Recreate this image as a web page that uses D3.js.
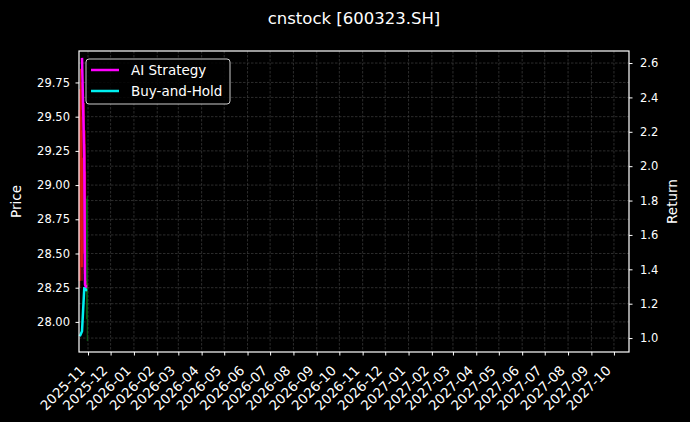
<!DOCTYPE html>
<html lang="en">
<head>
<meta charset="UTF-8">
<script src="https://cdn.jsdelivr.net/npm/d3@7"></script>
<title>cnstock [600323.SH]</title>
<style>
	body { margin: 0; background: #000; }
	svg { display: block; background: #000; font-family: "DejaVu Sans", sans-serif; }
	.grid line { stroke: #4a4a4a; stroke-width: 0.6; stroke-dasharray: 2.5,1.5; }
	.axis path, .axis line { stroke: #fff; }
	.axis text { fill: #fff; font-size: 11.5px; font-family: "DejaVu Sans", sans-serif; }
	.axis.x text { font-size: 13.5px; }
</style>
</head>
<body>
<div id="chart"></div>
<script>
	// trading days shown (all packed at the left edge of a two-year axis)
	const dates = ['2025-10-21', '2025-10-22', '2025-10-23', '2025-10-24', '2025-10-27',
		'2025-10-28', '2025-10-29', '2025-10-30', '2025-10-31'];
	const open  = [28.30, 29.55, 28.60, 28.40, 28.50, 28.40, 28.28, 28.26, 28.90];
	const high  = [29.70, 29.85, 29.75, 29.50, 29.60, 29.40, 28.32, 28.30, 28.92];
	const low   = [28.25, 29.10, 28.40, 28.30, 28.35, 28.30, 28.24, 28.22, 27.86];
	const close = [29.55, 29.70, 29.40, 29.20, 29.30, 29.10, 28.30, 28.28, 28.02];
	const aiReturn  = [null, null, null, 2.63, 2.05, 1.31, 1.30, 1.30, 1.30];
	const bhReturn  = [1.01, 1.02, 1.03, 1.04, 1.29, 1.29, 1.28, 1.28, 1.28];
	const priceTicks  = [28.00, 28.25, 28.50, 28.75, 29.00, 29.25, 29.50, 29.75];
	const returnTicks = [1.0, 1.2, 1.4, 1.6, 1.8, 2.0, 2.2, 2.4, 2.6];
	const xRange = ['2025-10-20', '2027-10-21'];

	const width = 690,
		height = 422,
		margin = {top: 51, right: 61, bottom: 70, left: 79};
	const innerW = width - margin.left - margin.right,
		innerH = height - margin.top - margin.bottom;

	const parse = d3.timeParse('%Y-%m-%d');
	const days = dates.map(parse);

	const x = d3.scaleTime()
		.domain(xRange.map(parse))
		.range([0, innerW]);
	const yPrice = d3.scaleLinear()
		.domain([27.78, 29.98])
		.range([innerH, 0]);
	const yRet = d3.scaleLinear()
		.domain([0.919, 2.67])
		.range([innerH, 0]);

	const svg = d3.select('#chart')
		.append('svg')
		.attr('width', width)
		.attr('height', height);

	svg.append('text')
		.attr('x', margin.left + innerW / 2)
		.attr('y', 24)
		.attr('text-anchor', 'middle')
		.attr('fill', '#fff')
		.style('font-size', '16.5px')
		.text('cnstock [600323.SH]');

	const g = svg.append('g')
		.attr('transform', `translate(${margin.left}, ${margin.top})`);

	// grid
	const months = x.ticks(d3.timeMonth.every(1));
	const grid = g.append('g').classed('grid', true);
	grid.selectAll('line.v').data(months).enter().append('line')
		.attr('x1', d => x(d)).attr('x2', d => x(d))
		.attr('y1', 0).attr('y2', innerH);
	grid.selectAll('line.hp').data(priceTicks).enter().append('line')
		.attr('x1', 0).attr('x2', innerW)
		.attr('y1', d => yPrice(d)).attr('y2', d => yPrice(d));
	grid.selectAll('line.hr').data(returnTicks).enter().append('line')
		.attr('x1', 0).attr('x2', innerW)
		.attr('y1', d => yRet(d)).attr('y2', d => yRet(d));

	// candles
	const candles = g.append('g');
	const bodyW = 2.2;
	dates.forEach(function(d, i) {
		const up = close[i] >= open[i];
		const col = up ? '#e01818' : '#0a8a1a';
		const cx = x(days[i]);
		candles.append('line')
			.attr('x1', cx).attr('x2', cx)
			.attr('y1', yPrice(high[i])).attr('y2', yPrice(low[i]))
			.attr('stroke', col).attr('stroke-width', 1)
			.attr('opacity', up ? 0.9 : 0.7);
		candles.append('rect')
			.attr('x', cx - bodyW / 2)
			.attr('width', up ? bodyW : 1)
			.attr('y', yPrice(Math.max(open[i], close[i])))
			.attr('height', Math.abs(yPrice(open[i]) - yPrice(close[i])))
			.attr('fill', col)
			.attr('opacity', up ? 0.9 : 0.7);
	});

	// return lines
	const line = d3.line()
		.defined((d, i) => d != null)
		.x((d, i) => x(days[i]))
		.y(d => yRet(d));
	g.append('path')
		.datum(bhReturn)
		.attr('d', line)
		.attr('fill', 'none')
		.attr('stroke', '#00f0f0')
		.attr('stroke-width', 2.5);
	g.append('path')
		.datum(aiReturn)
		.attr('d', line)
		.attr('fill', 'none')
		.attr('stroke', '#ff00ff')
		.attr('stroke-width', 2.5);

	// axes
	g.append('g')
		.classed('axis', true)
		.call(d3.axisLeft(yPrice).tickValues(priceTicks).tickFormat(d3.format('.2f')).tickSize(3.5).tickPadding(5.5))
		.call(s => s.select('.domain').remove());
	g.append('g')
		.classed('axis', true)
		.attr('transform', `translate(${innerW}, 0)`)
		.call(d3.axisRight(yRet).tickValues(returnTicks).tickFormat(d3.format('.1f')).tickSize(3.5).tickPadding(7.5))
		.call(s => s.select('.domain').remove());
	const xAxis = g.append('g')
		.classed('axis x', true)
		.attr('transform', `translate(0, ${innerH})`)
		.call(d3.axisBottom(x).tickValues(months).tickFormat(d3.timeFormat('%Y-%m')).tickSize(3.5))
		.call(s => s.select('.domain').remove());
	xAxis.selectAll('text')
		.attr('text-anchor', 'end')
		.attr('y', 0)
		.attr('dy', '0.35em')
		.attr('transform', 'translate(-6, 16) rotate(-45)');

	// frame
	g.append('rect')
		.attr('width', innerW)
		.attr('height', innerH)
		.attr('fill', 'none')
		.attr('stroke', '#fff')
		.attr('stroke-width', 1.2);

	// axis labels
	svg.append('text')
		.attr('transform', `translate(21, ${margin.top + innerH / 2}) rotate(-90)`)
		.attr('text-anchor', 'middle')
		.attr('fill', '#fff')
		.style('font-size', '13.5px')
		.text('Price');
	svg.append('text')
		.attr('transform', `translate(677, ${margin.top + innerH / 2}) rotate(-90)`)
		.attr('text-anchor', 'middle')
		.attr('fill', '#fff')
		.style('font-size', '13.5px')
		.text('Return');

	// legend
	const legend = g.append('g').attr('transform', 'translate(7, 8)');
	legend.append('rect')
		.attr('width', 144).attr('height', 45).attr('rx', 3)
		.attr('fill', '#000').attr('fill-opacity', 0.85)
		.attr('stroke', '#ccc').attr('stroke-width', 1);
	const entries = [['AI Strategy', '#ff00ff'], ['Buy-and-Hold', '#00f0f0']];
	entries.forEach(function(e, i) {
		legend.append('line')
			.attr('x1', 5).attr('x2', 33)
			.attr('y1', 11 + i * 21).attr('y2', 11 + i * 21)
			.attr('stroke', e[1]).attr('stroke-width', 2.5);
		legend.append('text')
			.attr('x', 45).attr('y', 16 + i * 21)
			.attr('fill', '#fff')
			.style('font-size', '13.5px')
			.text(e[0]);
	});
</script>
</body>
</html>
